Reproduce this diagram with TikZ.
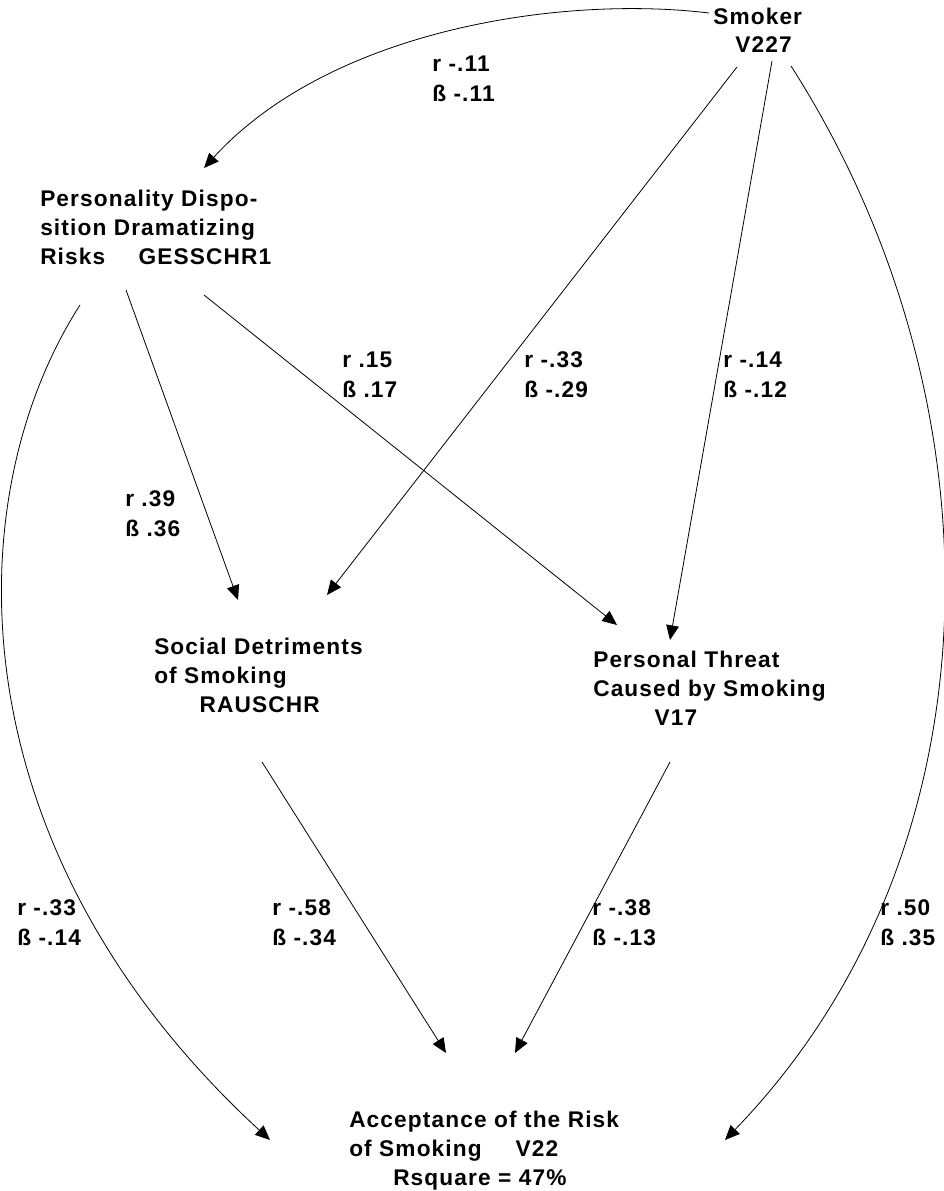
\documentclass[tikz,border=0pt]{standalone}
\usepackage{fontspec}
\setmainfont{Liberation Sans}[LetterSpace=5]
\usetikzlibrary{arrows.meta}

\begin{document}
\begin{tikzpicture}[x=0.75pt,y=-0.75pt]
	\tikzstyle{var node} = [anchor=base west, inner sep=0, align=left, font=\bfseries\fontsize{17}{21.4}\selectfont]
	\tikzstyle{coef node} = [anchor=base west, inner sep=0, align=left, font=\bfseries\fontsize{17}{22.5}\selectfont]
	\tikzstyle{path line} = [-{Triangle[length=11pt,width=9.5pt]}, line width=0.6pt]
	\useasboundingbox (0,0) rectangle (944,1191);
	% variables (placed at the baseline of their last line)
	\node[var node] (smoker) at (713,53) {Smoker\\\hspace*{16.5pt}V227};
	\node[var node] (disp) at (40,264) {Personality Dispo-\\sition Dramatizing\\Risks\hspace{25pt}GESSCHR1};
	\node[var node] (social) at (154,712) {Social Detriments\\of Smoking\\\hspace*{34pt}RAUSCHR};
	\node[var node] (threat) at (593,725) {Personal Threat\\Caused by Smoking\\\hspace*{46pt}V17};
	\node[var node] (accept) at (349,1185) {Acceptance of the Risk\\of Smoking\hspace{25.5pt}V22\\\hspace*{33pt}Rsquare = 47\%};
	% coefficients
	\node[coef node] (c1) at (432,102) {r -.11\\ß -.11};
	\node[coef node] (c2) at (342,397) {r .15\\ß .17};
	\node[coef node] (c3) at (524,397) {r -.33\\ß -.29};
	\node[coef node] (c4) at (723,397) {r -.14\\ß -.12};
	\node[coef node] (c5) at (125,536) {r .39\\ß .36};
	\node[coef node] (c6) at (17,945) {r -.33\\ß -.14};
	\node[coef node] (c7) at (272,945) {r -.58\\ß -.34};
	\node[coef node] (c8) at (592,945) {r -.38\\ß -.13};
	\node[coef node] (c9) at (880,945) {r .50\\ß .35};
	% paths
	\draw[path line] ([shift={(-4,-40)}]smoker.base west) .. controls +(-149,-18) and +(126,-138) .. ([shift={(164,-96)}]disp.base west);
	\draw[path line] ([shift={(24,14)}]smoker.base west) -- ([shift={(173,-117)}]social.base west);
	\draw[path line] ([shift={(59,8)}]smoker.base west) -- ([shift={(77,-85)}]threat.base west);
	\draw[path line] ([shift={(78,13)}]smoker.base west) .. controls +(214,334) and +(280,-290) .. ([shift={(376,-45)}]accept.base west);
	\draw[path line] ([shift={(86,26)}]disp.base west) -- ([shift={(84,-112)}]social.base west);
	\draw[path line] ([shift={(164,31)}]disp.base west) -- ([shift={(24,-100)}]threat.base west);
	\draw[path line] ([shift={(40,41)}]disp.base west) .. controls +(-125,195) and +(-315,-290) .. ([shift={(-79,-45)}]accept.base west);
	\draw[path line] ([shift={(108,50)}]social.base west) -- ([shift={(97,-132)}]accept.base west);
	\draw[path line] ([shift={(77,37)}]threat.base west) -- ([shift={(166,-132)}]accept.base west);
\end{tikzpicture}
\end{document}
